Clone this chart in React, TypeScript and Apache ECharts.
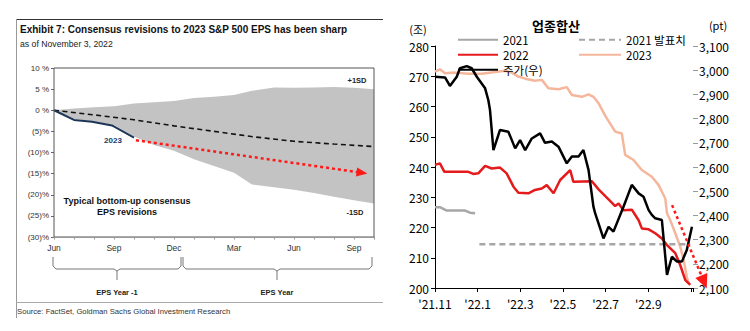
import React, { useEffect, useRef } from 'react';
import * as echarts from 'echarts';

// ---------------- Left chart (months since June of EPS Year -1) ----------------
const leftMonthLabels: Record<number, string> = { 0: 'Jun', 3: 'Sep', 6: 'Dec', 9: 'Mar', 12: 'Jun', 15: 'Sep' };
const bandMonths = [0, 1, 2, 3, 4, 5, 6, 7, 8, 9, 9.9, 11, 12, 13, 14, 15, 16];
const bandUpper = [0, 0.4, 0.7, 0.95, 1.6, 1.9, 2.2, 2.9, 3.2, 3.6, 4.6, 5.4, 5.3, 5.4, 5.5, 5.3, 5.0];
const bandLower = [0, -2.0, -2.7, -3.5, -6.2, -8.2, -9.6, -11.6, -13.2, -14.8, -17.6, -18.2, -18.8, -19.6, -20.5, -21.3, -22.1];
const avgMonths = [0, 2, 4, 6, 8, 10, 12, 14, 16];
const avgValues = [0, -1.1, -2.25, -3.7, -5.0, -6.3, -7.35, -8.0, -8.6];
const eps2023Months = [0, 1.0, 1.9, 2.9, 4.0];
const eps2023Values = [0, -2.3, -2.7, -3.6, -6.5];
const leftArrow = [[4.1, -7.1], [15.4, -14.8]];

// ---------------- Right chart (months since Nov 2021) ----------------
const rightMonthLabels: Record<number, string> = { 0: "'21.11", 2: "'22.1", 4: "'22.3", 6: "'22.5", 8: "'22.7", 10: "'22.9" };
const s2021 = [[0, 226.7], [0.23, 226.7], [0.55, 225.6], [1.41, 225.6], [1.64, 224.9], [1.88, 224.7]];
const s2021Announced = [[2.08, 214.5], [11.97, 214.5]];
const s2022 = [
  [0, 240.7], [0.23, 241.2], [0.44, 238.4], [1.56, 238.4], [1.8, 237.7], [2.03, 237.9], [2.35, 240.4], [2.66, 239.5],
  [3.05, 239.8], [3.36, 237.9], [3.68, 233.5], [3.91, 231.5], [4.38, 231.3], [4.69, 232.4], [5.01, 232.9], [5.24, 234.0],
  [5.56, 231.3], [5.87, 235.7], [6.34, 239.0], [6.49, 235.1], [7.36, 235.3], [7.67, 232.6], [8.14, 229.3], [8.45, 227.1],
  [8.61, 227.9], [8.84, 225.7], [9.23, 225.9], [9.55, 222.4], [9.7, 219.7], [10.02, 219.4], [10.33, 218.1], [10.64, 216.4],
  [10.88, 214.2], [11.27, 211.5], [11.5, 207.6], [11.74, 202.6], [11.97, 201.0],
];
const s2023 = [
  [0, 271.5], [0.23, 272.3], [0.47, 271.0], [0.94, 271.2], [1.56, 270.8], [2.19, 270.8], [2.82, 271.4], [3.29, 271.8],
  [3.6, 271.2], [3.91, 269.9], [4.23, 269.2], [4.69, 268.5], [5.01, 268.8], [5.32, 266.0], [5.79, 265.7], [6.18, 266.4],
  [6.42, 263.8], [6.89, 263.2], [7.2, 264.0], [7.43, 263.2], [7.67, 261.1], [7.98, 257.0], [8.45, 251.7], [8.76, 251.1],
  [8.92, 244.0], [9.31, 242.3], [9.7, 239.0], [10.17, 236.8], [10.49, 234.0], [10.8, 229.6], [10.88, 224.7], [11.03, 222.5],
  [11.27, 218.1], [11.5, 213.7], [11.66, 209.3], [11.81, 203.7], [11.89, 201.5],
];
const kospi = [
  [0, 2973], [0.47, 2970], [0.7, 2935], [1.02, 2973], [1.17, 3008], [1.49, 3017], [1.72, 3008], [1.96, 2973],
  [2.35, 2925], [2.5, 2877], [2.58, 2835], [2.74, 2670], [3.05, 2753], [3.44, 2746], [3.76, 2677], [3.99, 2711],
  [4.23, 2670], [4.54, 2718], [4.93, 2739], [5.16, 2700], [5.48, 2705], [5.79, 2684], [6.18, 2615], [6.42, 2643],
  [6.73, 2643], [6.96, 2670], [7.2, 2588], [7.43, 2436], [7.51, 2409], [7.9, 2305], [8.14, 2353], [8.37, 2333],
  [8.84, 2436], [9.23, 2526], [9.55, 2491], [9.78, 2477], [10.02, 2422], [10.17, 2402], [10.33, 2388], [10.64, 2381],
  [10.88, 2154], [11.11, 2229], [11.35, 2209], [11.58, 2209], [11.81, 2257], [12.05, 2353],
];
const rightArrow = [[11.13, 227.4], [12.63, 202.0]];

const AR = 'Liberation Sans';
const KR = 'Noto Sans CJK KR';

function leftYLabel(v: number) {
  if (v > 0) return `${v} %`;
  if (v === 0) return '0 %';
  return `(${-v})%`;
}

function brace(x1: number, x2: number, xc: number) {
  return [
    {
      type: 'polyline',
      shape: {
        points: [[x1, 257], [x1, 266], [x1 + 3, 269], [xc - 3, 269], [xc, 271], [xc + 3, 269], [x2 - 3, 269], [x2, 266], [x2, 257]],
      },
      style: { stroke: '#777', lineWidth: 1, fill: 'none' },
    },
    { type: 'line', shape: { x1: xc, y1: 271, x2: xc, y2: 280 }, style: { stroke: '#777', lineWidth: 1 } },
  ];
}

function txt(x: number, y: number, text: string, size: number, opts: any = {}) {
  return {
    type: 'text',
    x,
    y,
    style: {
      text,
      fontSize: size,
      fontFamily: opts.family || AR,
      fontWeight: opts.bold ? 'bold' : 'normal',
      fill: opts.color || '#222',
      align: opts.align || 'left',
      verticalAlign: 'middle',
    },
  };
}

export default function App() {
  const ref = useRef<HTMLDivElement>(null);
  useEffect(() => {
    document.body.style.margin = '0';
    if (!ref.current) return;
    const chart = echarts.init(ref.current, null, { renderer: 'svg' });
    const noLine = { opacity: 0 };
    const legendBase = {
      orient: 'vertical', itemHeight: 10, itemGap: 3.5, padding: 0, selectedMode: false,
      itemStyle: { opacity: 0 },
      textStyle: { fontSize: 11.5, fontFamily: KR, color: '#000' },
    };
    const option: any = {
      animation: false,
      backgroundColor: '#fff',
      grid: [
        { left: 54, top: 68, width: 320, height: 169, show: true, borderColor: '#555', borderWidth: 1, z: 5 },
        { left: 435, top: 46, width: 258, height: 242 },
        { left: 435, top: 46, width: 276.9, height: 242 },
      ],
      xAxis: [
        {
          gridIndex: 0, type: 'value', min: 0, max: 16, interval: 3, position: 'bottom',
          axisLine: { show: false }, axisTick: { show: false }, splitLine: { show: false },
          axisLabel: { formatter: (v: number) => leftMonthLabels[v] ?? '', fontSize: 8.5, color: '#333', fontFamily: AR, margin: 6 },
        },
        {
          gridIndex: 0, type: 'value', min: 0, max: 16, interval: 1, position: 'bottom', z: 6,
          axisLine: { show: true, onZero: true, lineStyle: { color: '#999', width: 1 } },
          axisTick: { show: true, length: 2.5, lineStyle: { color: '#999' } },
          axisLabel: { show: false }, splitLine: { show: false },
        },
        {
          gridIndex: 1, type: 'value', min: 0, max: 12.1, interval: 2, position: 'bottom',
          axisLine: { show: true, onZero: false, lineStyle: { color: '#000', width: 1 } },
          axisTick: { show: true, length: 4, lineStyle: { color: '#000' } },
          splitLine: { show: false },
          axisLabel: { formatter: (v: number) => rightMonthLabels[v] ?? '', fontSize: 12, color: '#000', fontFamily: KR, margin: 9 },
        },
        { gridIndex: 2, type: 'value', min: 0, max: 13, show: false },
      ],
      yAxis: [
        {
          gridIndex: 0, type: 'value', min: -30, max: 10, interval: 5,
          axisLine: { show: false }, splitLine: { show: false },
          axisTick: { show: true, length: 3, lineStyle: { color: '#666' } },
          axisLabel: { formatter: leftYLabel, fontSize: 8, color: '#333', fontFamily: AR, margin: 5 },
        },
        {
          gridIndex: 1, type: 'value', min: 200, max: 280, interval: 10, position: 'left',
          axisLine: { show: true, lineStyle: { color: '#000', width: 1 } },
          axisTick: { show: true, length: 4, lineStyle: { color: '#000' } },
          splitLine: { show: false },
          axisLabel: { fontSize: 12, color: '#000', fontFamily: KR, margin: 6 },
        },
        {
          gridIndex: 1, type: 'value', min: 2100, max: 3100, interval: 100, position: 'right',
          axisLine: { show: false }, splitLine: { show: false },
          axisTick: { show: true, length: 5, lineStyle: { color: '#999' } },
          axisLabel: { fontSize: 12, color: '#000', fontFamily: KR, margin: 6, formatter: (v: number) => v.toLocaleString('en-US') },
        },
        { gridIndex: 2, type: 'value', min: 200, max: 280, show: false },
      ],
      legend: [
        { ...legendBase, left: 457, top: 34, itemWidth: 40, data: ['2021', '2022', '주가(우)'] },
        { ...legendBase, left: 578, top: 34, itemWidth: 42, data: ['2021 발표치', '2023'] },
      ],
      series: [
        // ---- left chart ----
        {
          name: 'band', type: 'custom', xAxisIndex: 0, yAxisIndex: 0, z: 1, silent: true,
          data: bandMonths.map((m, i) => [m, bandLower[i], bandUpper[i]]),
          encode: { x: 0, y: [1, 2] },
          renderItem: (params: any, api: any) => {
            if (params.dataIndex !== 0) return { type: 'group', children: [] };
            const pts: number[][] = [];
            for (let i = 0; i < bandMonths.length; i++) pts.push(api.coord([bandMonths[i], bandUpper[i]]));
            for (let i = bandMonths.length - 1; i >= 0; i--) pts.push(api.coord([bandMonths[i], bandLower[i]]));
            return { type: 'polygon', shape: { points: pts }, style: { fill: '#c3c3c3' } };
          },
        },
        {
          name: 'Average', type: 'line', xAxisIndex: 0, yAxisIndex: 0, symbol: 'none', z: 3,
          data: avgMonths.map((m, i) => [m, avgValues[i]]),
          lineStyle: { color: '#111', width: 1.6, type: [5, 3.5] },
        },
        {
          name: '2023 revisions', type: 'line', xAxisIndex: 0, yAxisIndex: 0, symbol: 'none', z: 3,
          data: eps2023Months.map((m, i) => [m, eps2023Values[i]]),
          lineStyle: { color: '#1d3557', width: 2 },
        },
        {
          name: 'left-arrow', type: 'line', xAxisIndex: 0, yAxisIndex: 0, symbol: 'none', z: 4,
          data: leftArrow, lineStyle: noLine,
          markLine: {
            silent: true, animation: false, symbol: ['none', 'triangle'], symbolSize: [9, 11],
            label: { show: false },
            lineStyle: { type: [3, 3], width: 2.5, color: '#ff1a1a' },
            data: [[{ coord: leftArrow[0] }, { coord: leftArrow[1] }]],
          },
        },
        // ---- right chart ----
        {
          name: '2023', type: 'line', xAxisIndex: 2, yAxisIndex: 1, symbol: 'none', z: 2,
          data: s2023, lineStyle: { color: '#f5b79c', width: 2.5 }, itemStyle: { color: '#f5b79c' },
        },
        {
          name: '2021', type: 'line', xAxisIndex: 2, yAxisIndex: 1, symbol: 'none', z: 2,
          data: s2021, lineStyle: { color: '#a6a6a6', width: 2.5 }, itemStyle: { color: '#a6a6a6' },
        },
        {
          name: '2021 발표치', type: 'line', xAxisIndex: 2, yAxisIndex: 1, symbol: 'none', z: 2,
          data: s2021Announced, lineStyle: { color: '#a6a6a6', width: 2.5, type: [6, 4] }, itemStyle: { color: '#a6a6a6' },
        },
        {
          name: '2022', type: 'line', xAxisIndex: 2, yAxisIndex: 1, symbol: 'none', z: 3,
          data: s2022, lineStyle: { color: '#e41a1c', width: 2.5 }, itemStyle: { color: '#e41a1c' },
        },
        {
          name: '주가(우)', type: 'line', xAxisIndex: 2, yAxisIndex: 2, symbol: 'none', z: 4,
          data: kospi, lineStyle: { color: '#000', width: 2.5 }, itemStyle: { color: '#000' },
        },
        {
          name: 'right-arrow', type: 'line', xAxisIndex: 3, yAxisIndex: 3, symbol: 'none', z: 5, clip: false,
          data: rightArrow, lineStyle: noLine,
          markLine: {
            silent: true, animation: false, symbol: ['none', 'triangle'], symbolSize: [13, 14],
            label: { show: false },
            lineStyle: { type: [3, 3], width: 2.5, color: '#ff1a1a' },
            data: [[{ coord: rightArrow[0] }, { coord: rightArrow[1] }]],
          },
        },
      ],
      graphic: [
        { type: 'line', shape: { x1: 16, y1: 19.5, x2: 383, y2: 19.5 }, style: { stroke: '#333', lineWidth: 1 } },
        { type: 'line', shape: { x1: 16.5, y1: 19, x2: 16.5, y2: 318 }, style: { stroke: '#999', lineWidth: 1 } },
        { type: 'line', shape: { x1: 16, y1: 302.5, x2: 383, y2: 302.5 }, style: { stroke: '#aaa', lineWidth: 1 } },
        txt(20, 29, 'Exhibit 7: Consensus revisions to 2023 S&P 500 EPS has been sharp', 10, { bold: true, color: '#111' }),
        txt(20, 44, 'as of November 3, 2022', 8.7, { color: '#222' }),
        txt(357, 80, '+1SD', 7.5, { bold: true, align: 'center' }),
        txt(352, 158, 'Average', 7.5, { bold: true, align: 'center' }),
        txt(355, 212, '-1SD', 7.5, { bold: true, align: 'center' }),
        txt(113, 140, '2023', 8, { bold: true, align: 'center', color: '#1d3a6a' }),
        txt(127, 201, 'Typical bottom-up consensus', 9, { bold: true, align: 'center', color: '#111' }),
        txt(127, 212, 'EPS revisions', 9, { bold: true, align: 'center', color: '#111' }),
        ...brace(53, 181, 117),
        ...brace(183, 372, 277),
        txt(117, 292, 'EPS Year -1', 7.5, { bold: true, align: 'center' }),
        txt(277, 292, 'EPS Year', 7.5, { bold: true, align: 'center' }),
        txt(17, 311, 'Source: FactSet, Goldman Sachs Global Investment Research', 7.7, { color: '#333' }),
        txt(556, 25, '업종합산', 13, { bold: true, align: 'center', family: KR, color: '#000' }),
        txt(418, 29, '(조)', 11, { align: 'center', family: KR, color: '#000' }),
        txt(718, 25, '(pt)', 11, { align: 'center', family: KR, color: '#000' }),
      ],
    };
    chart.setOption(option);
    return () => chart.dispose();
  }, []);
  return <div ref={ref} style={{ width: 750, height: 331 }} />;
}
